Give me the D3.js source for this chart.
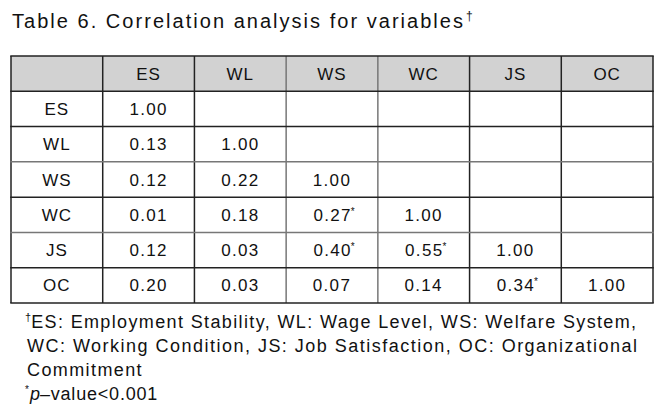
<!DOCTYPE html>
<html>
<head>
<meta charset="utf-8">
<script src="https://cdn.jsdelivr.net/npm/d3@7"></script>
<style>
  body { margin: 0; background: #fff; }
  svg { display: block; }
  text { font-family: "Liberation Sans", Arial, sans-serif; fill: #111; }
</style>
</head>
<body>
<svg width="671" height="415"></svg>
<script>
// variables of the correlation matrix
var vars = ["ES", "WL", "WS", "WC", "JS", "OC"];

// lower triangle, one list per row
var values = [
  ["1.00"],
  ["0.13", "1.00"],
  ["0.12", "0.22", "1.00"],
  ["0.01", "0.18", "0.27", "1.00"],
  ["0.12", "0.03", "0.40", "0.55", "1.00"],
  ["0.20", "0.03", "0.07", "0.14", "0.34", "1.00"]
];

// p < 0.001 markers
var signif = [
  [false],
  [false, false],
  [false, false, false],
  [false, false, true, false],
  [false, false, true, true, false],
  [false, false, false, false, true, false]
];

var title = "Table 6. Correlation analysis for variables";
var notes = [
  "ES: Employment Stability, WL: Wage Level, WS: Welfare System,",
  "WC: Working Condition, JS: Job Satisfaction, OC: Organizational",
  "Commitment",
  "\u2013value<0.001"
];

var svg = d3.select("svg");

var cols = [""].concat(vars);
var x = d3.scaleBand().domain(d3.range(cols.length)).range([11, 653]);
var y = d3.scaleBand().domain(d3.range(vars.length + 1)).range([56, 303]);

// title
var t = svg.append("text")
  .attr("x", 12)
  .attr("y", 28)
  .style("font-size", "20px");
t.append("tspan").text(title).attr("textLength", 451).attr("lengthAdjust", "spacing");
t.append("tspan").text("\u2020").style("font-size", "12px").attr("dy", -8).attr("dx", 1);

// header background
svg.append("rect")
  .attr("x", x(0))
  .attr("y", y(0))
  .attr("width", x.range()[1] - x.range()[0])
  .attr("height", y.bandwidth())
  .attr("fill", "#d2d2d2");

// header labels
svg.selectAll(".head")
  .data(vars)
  .enter()
  .append("text")
  .attr("class", "head")
  .attr("x", function (d, i) { return x(i + 1) + x.bandwidth() / 2; })
  .attr("y", y(0) + y.bandwidth() / 2)
  .attr("dy", "0.36em")
  .attr("text-anchor", "middle")
  .style("font-size", "17px")
  .style("letter-spacing", "1px")
  .text(function (d) { return d; });

// row labels
svg.selectAll(".rowlab")
  .data(vars)
  .enter()
  .append("text")
  .attr("class", "rowlab")
  .attr("x", x(0) + x.bandwidth() / 2)
  .attr("y", function (d, i) { return y(i + 1) + y.bandwidth() / 2; })
  .attr("dy", "0.36em")
  .attr("text-anchor", "middle")
  .style("font-size", "17px")
  .style("letter-spacing", "1px")
  .text(function (d) { return d; });

// cells
var cells = [];
values.forEach(function (row, i) {
  row.forEach(function (v, j) {
    cells.push({ r: i, c: j, v: v, s: signif[i][j] });
  });
});

var ct = svg.selectAll(".cell")
  .data(cells)
  .enter()
  .append("text")
  .attr("class", "cell")
  .attr("x", function (d) { return x(d.c + 1) + x.bandwidth() / 2 + (d.s ? 2 : 0); })
  .attr("y", function (d) { return y(d.r + 1) + y.bandwidth() / 2; })
  .attr("dy", "0.36em")
  .attr("text-anchor", "middle")
  .style("font-size", "17px")
  .style("letter-spacing", "1.3px");
ct.append("tspan").text(function (d) { return d.v; });
ct.filter(function (d) { return d.s; })
  .append("tspan")
  .text("*")
  .style("font-size", "10px")
  .style("letter-spacing", "0px")
  .attr("dx", -1)
  .attr("dy", -6);

// grid lines, a few inner ones printed in gray
var grayV = [3, 4];
var grayH = [3, 5];
var grid = svg.append("g");
d3.range(cols.length + 1).forEach(function (i) {
  var xp = i < cols.length ? x(i) : x.range()[1];
  grid.append("line")
    .attr("x1", xp).attr("x2", xp)
    .attr("y1", y.range()[0]).attr("y2", y.range()[1])
    .attr("stroke", grayV.indexOf(i) >= 0 ? "#777" : "#222")
    .attr("stroke-width", 1.5);
});
d3.range(vars.length + 2).forEach(function (i) {
  var yp = i <= vars.length ? y(i) : y.range()[1];
  grid.append("line")
    .attr("x1", x.range()[0] - 0.75).attr("x2", x.range()[1] + 0.75)
    .attr("y1", yp).attr("y2", yp)
    .attr("stroke", grayH.indexOf(i) >= 0 ? "#777" : "#222")
    .attr("stroke-width", 1.5);
});

// footnotes
var fy = [328, 352, 376, 400];
var n1 = svg.append("text").attr("x", 25).attr("y", fy[0]).style("font-size", "18px");
n1.append("tspan").text("\u2020").style("font-size", "11px").attr("dy", -7);
n1.append("tspan").text(notes[0]).attr("dy", 7).attr("textLength", 605).attr("lengthAdjust", "spacing");

svg.append("text").attr("x", 27).attr("y", fy[1]).style("font-size", "18px")
  .append("tspan").text(notes[1]).attr("textLength", 610).attr("lengthAdjust", "spacing");

svg.append("text").attr("x", 27).attr("y", fy[2]).style("font-size", "18px")
  .style("letter-spacing", "1.4px")
  .text(notes[2]);

var n4 = svg.append("text").attr("x", 25).attr("y", fy[3]).style("font-size", "18px");
n4.append("tspan").text("*").style("font-size", "10px").attr("dy", -7);
n4.append("tspan").text("p").style("font-style", "italic").attr("dy", 7).attr("dx", 1);
n4.append("tspan").text(notes[3]).style("letter-spacing", "0.8px");
</script>
</body>
</html>
